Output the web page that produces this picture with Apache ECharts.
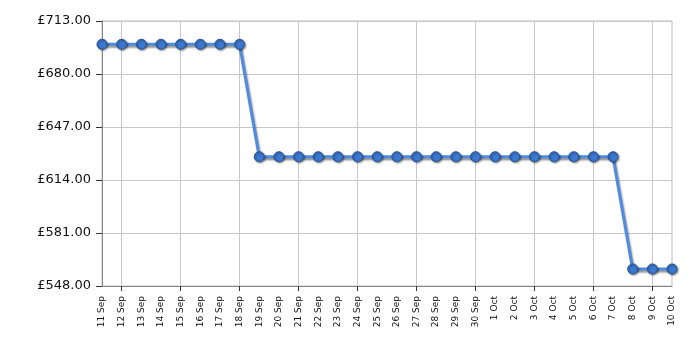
<!DOCTYPE html>
<html><head><meta charset="utf-8">
<script src="https://cdn.jsdelivr.net/npm/echarts@6/dist/echarts.min.js"></script>
<style>html,body{margin:0;padding:0;background:#fff}#c{width:700px;height:350px}</style>
</head><body><div id="c"></div>
<script>
const categories = ["11 Sep","12 Sep","13 Sep","14 Sep","15 Sep","16 Sep","17 Sep","18 Sep","19 Sep","20 Sep","21 Sep","22 Sep","23 Sep","24 Sep","25 Sep","26 Sep","27 Sep","28 Sep","29 Sep","30 Sep","1 Oct","2 Oct","3 Oct","4 Oct","5 Oct","6 Oct","7 Oct","8 Oct","9 Oct","10 Oct"];
const prices = [698.5,698.5,698.5,698.5,698.5,698.5,698.5,698.5,628.5,628.5,628.5,628.5,628.5,628.5,628.5,628.5,628.5,628.5,628.5,628.5,628.5,628.5,628.5,628.5,628.5,628.5,628.5,558.6,558.6,558.6];
const yMin = 548, yMax = 713, yStep = 33;

const chart = echarts.init(document.getElementById('c'), null, {renderer:'canvas'});
const font = 'Verdana, "DejaVu Sans", sans-serif';
chart.setOption({
  animation:false,
  grid:{left:102,right:28,top:21,bottom:64,show:true,borderColor:'#bdbdbd',borderWidth:1,containLabel:false},
  xAxis:{
    type:'category',data:categories,boundaryGap:false,
    axisLine:{lineStyle:{color:'#888',width:1}},
    axisTick:{show:true,length:5,lineStyle:{color:'#333'},interval:(i)=>i%3===1},
    splitLine:{show:true,lineStyle:{color:'#c8c8c8',width:1},interval:(i)=>i%3===1},
    axisLabel:{rotate:90,interval:0,color:'#111',fontFamily:font,fontSize:9,margin:10}
  },
  yAxis:{
    type:'value',min:yMin,max:yMax,interval:yStep,
    axisLine:{show:true,lineStyle:{color:'#888',width:1}},
    axisTick:{show:true,length:6,lineStyle:{color:'#333'}},
    splitLine:{show:true,lineStyle:{color:'#c8c8c8',width:1}},
    axisLabel:{color:'#111',fontFamily:font,fontSize:13,margin:11,formatter:v=>'£'+v.toFixed(2)}
  },
  series:[{
    type:'line',data:prices,symbol:'circle',symbolSize:10,
    lineStyle:{color:'#4f8ce0',width:3,shadowColor:'rgba(0,0,0,0.45)',shadowBlur:2,shadowOffsetX:1,shadowOffsetY:2},
    itemStyle:{color:'#3b78d0',borderColor:'#2a5598',borderWidth:1,shadowColor:'rgba(0,0,0,0.45)',shadowBlur:2,shadowOffsetX:1,shadowOffsetY:1}
  }]
});
</script></body></html>
